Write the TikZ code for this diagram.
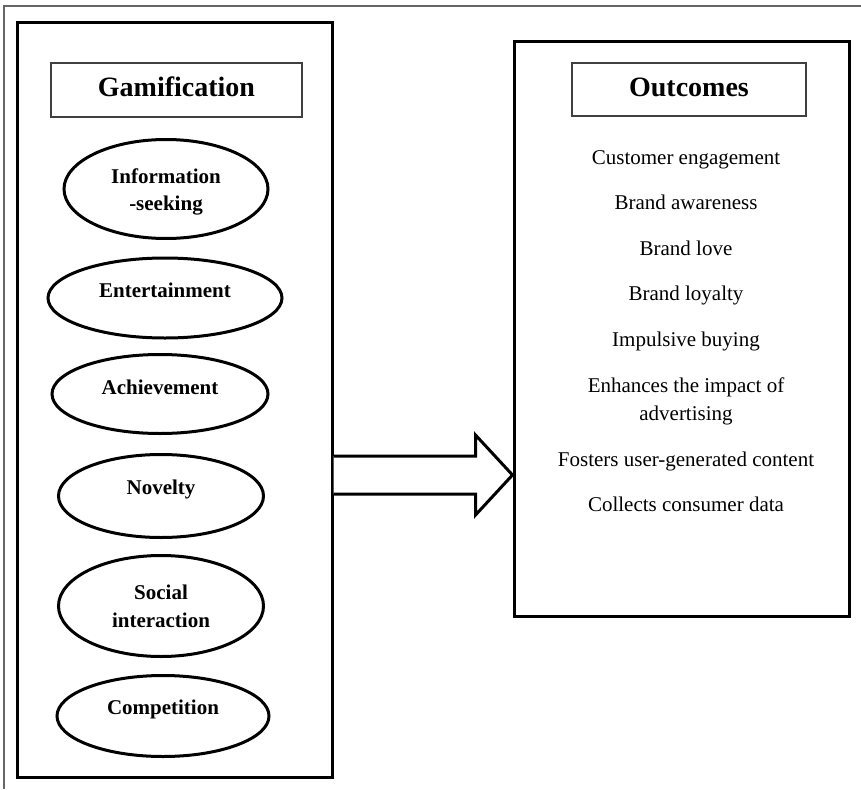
\documentclass[tikz,border=0pt]{standalone}
\usepackage{fontspec}
\setmainfont{Liberation Serif}
\usetikzlibrary{shapes.geometric,calc}
\tikzset{
  bigbox/.style={draw=black, line width=3pt},
  titlebox/.style={draw=black!75, line width=1.2pt},
  oval/.style={draw=black, ellipse, line width=3pt, inner sep=0pt},
  ovaltext/.style={anchor=base, inner sep=0pt, font=\fontsize{21}{28}\selectfont\bfseries},
  outtext/.style={anchor=base, inner sep=0pt, font=\fontsize{21}{28}\selectfont},
  titletext/.style={anchor=base, inner sep=0pt, font=\fontsize{28}{34}\selectfont\bfseries},
}
\begin{document}
\begin{tikzpicture}[x=1pt,y=-1pt]
\useasboundingbox (0,0) rectangle (861,789);
\draw[black!60, line width=1.2pt] (4,789) -- (4,6) -- (861,6);

% left box
\node[bigbox, minimum width=315pt, minimum height=754pt, inner sep=0pt] (left) at (174.5,400) {};
\node[titlebox, minimum width=251pt, minimum height=54pt, inner sep=0pt] (gtitle) at (176.5,90) {};
\node[titletext] (gt) at (176.5,97) {Gamification};

\node[oval, minimum width=204pt, minimum height=99pt] (e1) at (166,189) {};
\node[ovaltext] (e1a) at (166,183) {Information};
\node[ovaltext] (e1b) at (166,210) {-seeking};

\node[oval, minimum width=234pt, minimum height=80pt] (e2) at (165,298) {};
\node[ovaltext] (e2a) at (165,297) {Entertainment};

\node[oval, minimum width=216pt, minimum height=79pt] (e3) at (160,394) {};
\node[ovaltext] (e3a) at (160,394) {Achievement};

\node[oval, minimum width=205pt, minimum height=83pt] (e4) at (161,496) {};
\node[ovaltext] (e4a) at (161,494) {Novelty};

\node[oval, minimum width=205pt, minimum height=101pt] (e5) at (161,606) {};
\node[ovaltext] (e5a) at (161,599) {Social};
\node[ovaltext] (e5b) at (161,627) {interaction};

\node[oval, minimum width=212pt, minimum height=81pt] (e6) at (163,716) {};
\node[ovaltext] (e6a) at (163,714) {Competition};

% right box
\node[bigbox, minimum width=335pt, minimum height=574pt, inner sep=0pt] (right) at (681.5,329) {};
\node[titlebox, minimum width=234pt, minimum height=53pt, inner sep=0pt] (otitle) at (689,89.5) {};
\node[titletext] (ot) at (689,97) {Outcomes};

\node[outtext] (o1) at (686,164) {Customer engagement};
\node[outtext] (o2) at (686,209) {Brand awareness};
\node[outtext] (o3) at (686,255) {Brand love};
\node[outtext] (o4) at (686,300) {Brand loyalty};
\node[outtext] (o5) at (686,346) {Impulsive buying};
\node[outtext] (o6) at (686,392) {Enhances the impact of};
\node[outtext] (o6b) at (686,420) {advertising};
\node[outtext] (o7) at (686,466) {Fosters user-generated content};
\node[outtext] (o8) at (686,511) {Collects consumer data};

% block arrow
\coordinate (as) at (left.east |- 0,475);
\coordinate (tip) at (right.west |- 0,475);
\draw[line width=3pt, line join=miter, fill=white]
  ($(as)+(0,-19)$) -- ($(tip)+(-37,-19)$) -- ($(tip)+(-37,-40)$) -- (tip)
  -- ($(tip)+(-37,40)$) -- ($(tip)+(-37,19)$) -- ($(as)+(0,19)$);
\end{tikzpicture}
\end{document}
